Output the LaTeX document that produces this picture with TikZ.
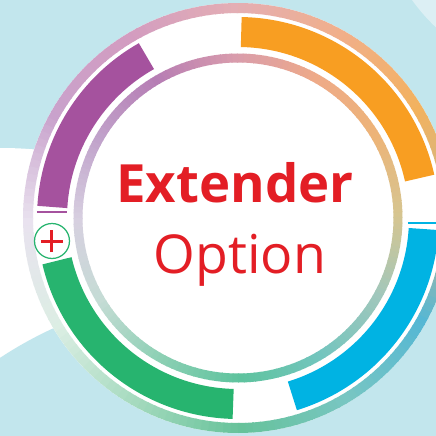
\documentclass[tikz,border=0pt]{standalone}
\usepackage{fontspec}
\setmainfont{Open Sans}
\usetikzlibrary{positioning}

\definecolor{bgblue}{HTML}{C2E6ED}
\definecolor{bglight}{HTML}{DCEFF4}
\definecolor{cpurple}{HTML}{A5529E}
\definecolor{corange}{HTML}{F89E22}
\definecolor{cgreen}{HTML}{27B46F}
\definecolor{cblue}{HTML}{00B3E3}
\definecolor{cred}{HTML}{E31E25}
% outer ring stops
\definecolor{o0}{HTML}{C8B890}
\definecolor{o30}{HTML}{F2B25E}
\definecolor{o60}{HTML}{F1AF8A}
\definecolor{o90}{HTML}{E3AEB4}
\definecolor{o120}{HTML}{D39CC0}
\definecolor{o150}{HTML}{C9A2CC}
\definecolor{o180}{HTML}{E9E2EF}
\definecolor{o210}{HTML}{DCEEE4}
\definecolor{o240}{HTML}{A5DABE}
\definecolor{o270}{HTML}{66C29A}
\definecolor{o300}{HTML}{78C6C2}
\definecolor{o330}{HTML}{55B7D4}
% inner ring stops
\definecolor{i0}{HTML}{D6C590}
\definecolor{i30}{HTML}{EDB478}
\definecolor{i60}{HTML}{EEAA88}
\definecolor{i90}{HTML}{D99CAC}
\definecolor{i120}{HTML}{B67DB4}
\definecolor{i150}{HTML}{C1A3CB}
\definecolor{i180}{HTML}{D7D0E0}
\definecolor{i210}{HTML}{C5DCD5}
\definecolor{i240}{HTML}{8DD0B4}
\definecolor{i270}{HTML}{5EC39E}
\definecolor{i300}{HTML}{73C5BE}
\definecolor{i330}{HTML}{A0C7BC}

\begin{document}
\begin{tikzpicture}[
    x=0.2mm, y=0.2mm,
    band/.style={line width=6mm},
    title/.style={text=cred, inner sep=0pt, anchor=base, font=\bfseries\fontsize{30}{30}\selectfont},
    subtitle/.style={text=cred, inner sep=0pt, anchor=base, font=\fontsize{30.5}{30.5}\selectfont},
    plusbtn/.style={circle, draw=cgreen, fill=white, line width=0.25mm, minimum size=7mm, inner sep=0pt}
]
    \useasboundingbox (-238,-218) rectangle (198,218);
    \clip (-238,-218) rectangle (198,218);

    % background swoosh
    \fill[bgblue] (-238,-218) rectangle (198,218);
    \fill[white] (-238,70) .. controls (-180,70) and (-120,60) .. (0,0) -- (0,-218) -- (-238,-218) -- cycle;
    \fill[bgblue] (-18,-474) circle[radius=400];
    \fill[bglight] (330,330) circle[radius=192];

    % rings
    \fill[white] (0,0) circle[radius=215];
    \foreach \a in {0,2,...,358}{
        \pgfmathtruncatemacro\k{floor(\a/30)*30}
        \pgfmathtruncatemacro\kn{mod(\k+30,360)}
        \pgfmathtruncatemacro\p{100-(\a-\k)*10/3}
        \draw[line width=2mm, color=o\k!\p!o\kn] (\a:210) arc[start angle=\a, end angle=\a+2.4, radius=210];
        \draw[line width=1.8mm, color=i\k!\p!i\kn] (\a:160) arc[start angle=\a, end angle=\a+2.4, radius=160];
    }

    % coloured bands
    \draw[band, corange] (12.4:186) arc[start angle=12.4, end angle=89, radius=186];
    \draw[band, cpurple] (119.5:186) arc[start angle=119.5, end angle=176.6, radius=186];
    \draw[band, cgreen] (193.3:186) arc[start angle=193.3, end angle=268.5, radius=186];
    \draw[band, cblue] (287:186) arc[start angle=287, end angle=356.6, radius=186];
    \draw[cpurple, line width=0.4mm] (-201,6) -- (-171,6);
    \draw[cblue, line width=0.5mm] (170,-5) -- (200,-5);

    % plus button
    \node[plusbtn] (plus) at (-186,-23) {};
    \draw[cred, line width=0.6mm] ([xshift=-2.2mm]plus.center) -- ([xshift=2.2mm]plus.center);
    \draw[cred, line width=0.6mm] ([yshift=-2.2mm]plus.center) -- ([yshift=2.2mm]plus.center);

    \node[title] (extender) at (-3,16) {Extender};
    \node[subtitle] (option) at (2,-55) {Option};
\end{tikzpicture}
\end{document}
